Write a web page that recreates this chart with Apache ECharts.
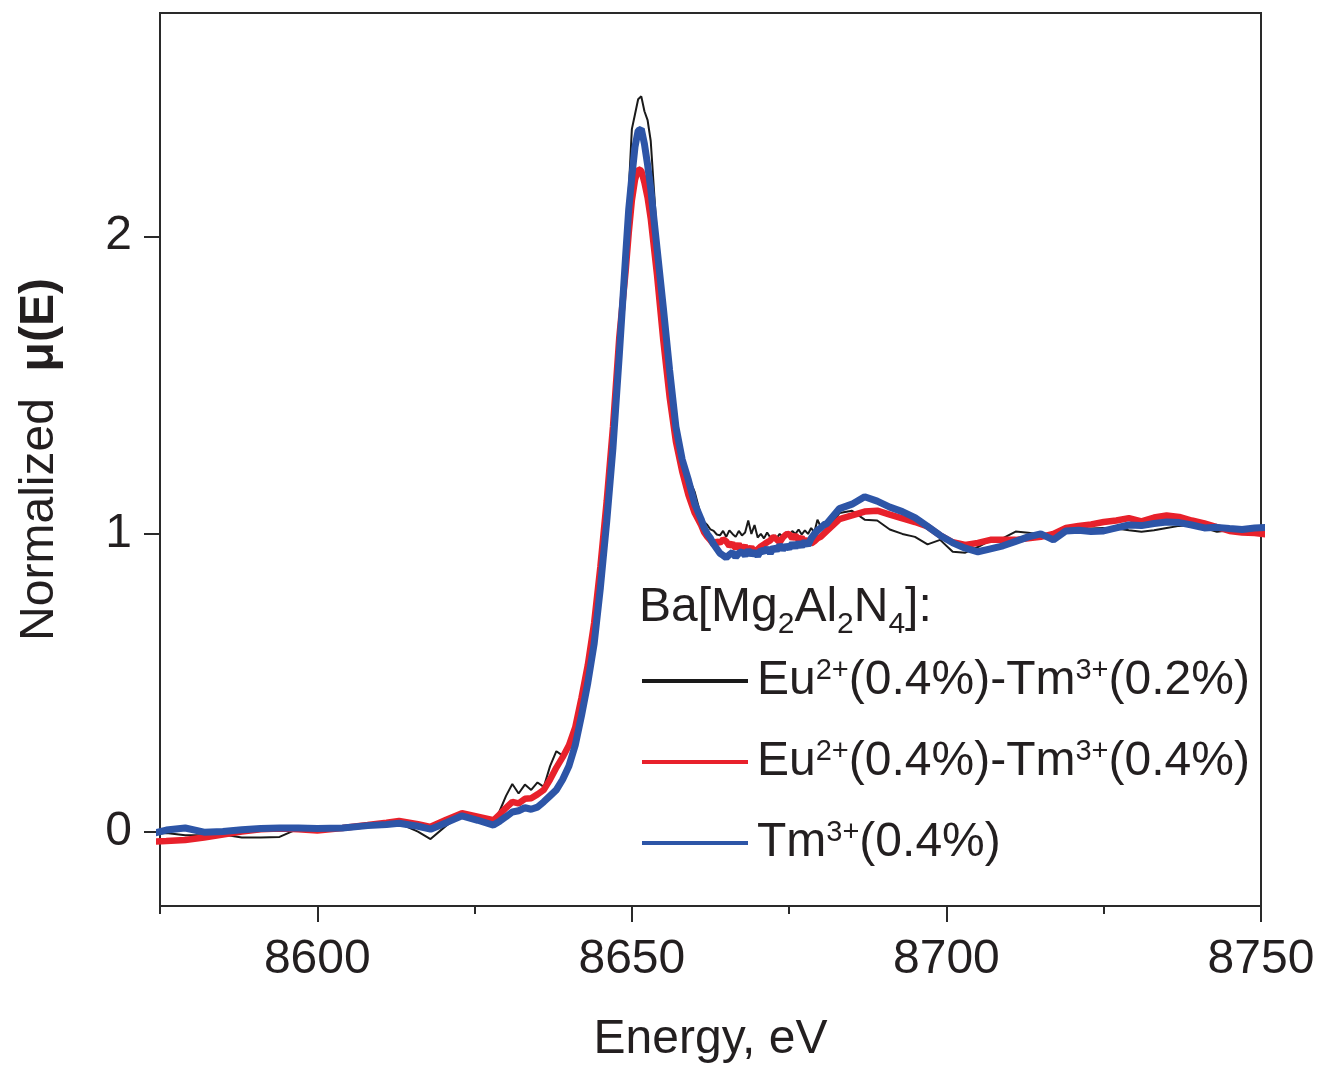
<!DOCTYPE html>
<html>
<head>
<meta charset="utf-8">
<script src="https://cdn.jsdelivr.net/npm/echarts@6/dist/echarts.min.js"></script>
<style>
  html, body { margin: 0; padding: 0; background: #fff; }
  #chart { width: 1320px; height: 1067px; }
</style>
</head>
<body>
<div id="chart"></div>
<script>
// Eu L3-edge XANES of Ba[Mg2Al2N4] samples, normalized absorption vs photon energy (eV)
const energy = [
  8573, 8576, 8579, 8582, 8585, 8588, 8591, 8594, 8597, 8600,
  8604, 8608, 8611, 8613, 8616, 8618, 8620.5, 8623, 8625.5, 8628,
  8629, 8630, 8631, 8632, 8633, 8634, 8635, 8636, 8637, 8638, 8639,
  8640, 8641, 8642, 8643, 8644, 8645, 8646, 8647, 8648, 8649,
  8649.5, 8650, 8650.5, 8651, 8651.5, 8652, 8652.5, 8653, 8654, 8655,
  8656, 8657, 8658, 8659, 8660,
  8661, 8661.5, 8662, 8662.5, 8663, 8663.5, 8664, 8664.5, 8665, 8665.5,
  8666, 8666.5, 8667, 8667.5, 8668, 8668.5, 8669, 8669.5, 8670, 8670.5,
  8671, 8671.5, 8672, 8672.5, 8673, 8673.5, 8674, 8674.5, 8675, 8675.5,
  8676, 8676.5, 8677, 8677.5, 8678, 8678.5, 8679, 8679.5, 8680, 8680.5, 8681,
  8683, 8685, 8687, 8689, 8691, 8693, 8695, 8697, 8699, 8701,
  8703, 8705, 8707, 8709, 8711, 8713, 8715, 8717, 8719, 8721,
  8723, 8725, 8727, 8729, 8731, 8733, 8735, 8737, 8739, 8741,
  8743, 8745, 8747, 8749, 8751, 8752.5
];

// Eu2+(0.4%)-Tm3+(0.2%)
const euTm02 = [
  -0.01, -0.005, -0.012, -0.012, -0.01, -0.02, -0.02, -0.018, 0.01, 0.018,
  0.012, 0.02, 0.025, 0.028, 0.0, -0.025, 0.02, 0.055, 0.042, 0.03,
  0.07, 0.12, 0.16, 0.128, 0.158, 0.14, 0.165, 0.15, 0.22, 0.27, 0.255,
  0.3, 0.34, 0.43, 0.54, 0.67, 0.86, 1.08, 1.33, 1.63, 1.97,
  2.15, 2.36, 2.41, 2.46, 2.47, 2.42, 2.39, 2.32, 2.0, 1.78,
  1.57, 1.38, 1.27, 1.19, 1.14,
  1.06, 1.04, 1.03, 1.015, 1.01, 0.998, 0.995, 1.01, 0.99, 1.012,
  1.0, 0.99, 1.01, 0.995, 1.005, 1.045, 1.0, 1.03, 0.988, 1.0,
  0.985, 1.005, 0.988, 0.995, 0.985, 1.0, 0.99, 1.005, 0.992, 1.01,
  1.0, 1.015, 0.998, 1.012, 1.0, 1.02, 1.005, 1.048, 1.025, 1.04, 1.015,
  1.07, 1.078, 1.048, 1.045, 1.015, 1.0, 0.99, 0.965, 0.98, 0.94,
  0.937, 0.956, 0.978, 0.986, 1.008, 1.004, 0.998, 0.99, 1.012, 1.015,
  1.018, 1.02, 1.018, 1.012, 1.007, 1.012, 1.02, 1.027, 1.03, 1.02,
  1.007, 1.012, 1.015, 1.02, 1.023, 1.02
];

// Eu2+(0.4%)-Tm3+(0.4%)
const euTm04 = [
  -0.035, -0.032, -0.028, -0.02, -0.01, 0.0, 0.008, 0.01, 0.008, 0.004,
  0.012, 0.022, 0.03, 0.036, 0.025, 0.016, 0.04, 0.062, 0.05, 0.038,
  0.058, 0.08, 0.1, 0.095, 0.11, 0.112, 0.125, 0.14, 0.175, 0.215, 0.25,
  0.29, 0.35, 0.45, 0.56, 0.7, 0.89, 1.11, 1.36, 1.66, 1.88,
  2.01, 2.12, 2.19, 2.225, 2.22, 2.18, 2.13, 2.06, 1.87, 1.65,
  1.46, 1.31, 1.21, 1.13, 1.07,
  1.03, 1.005, 0.99, 0.978, 0.965, 0.975, 0.97, 0.982, 0.975, 0.96,
  0.968, 0.952, 0.965, 0.95, 0.958, 0.945, 0.955, 0.94, 0.948, 0.958,
  0.965, 0.972, 0.978, 0.99, 0.982, 0.972, 0.988, 0.998, 1.0, 0.985,
  0.995, 0.98, 0.988, 0.972, 0.98, 0.968, 0.975, 0.985, 0.99, 1.0, 1.01,
  1.05, 1.062, 1.075, 1.078, 1.065, 1.052, 1.04, 1.025, 0.995, 0.972,
  0.963, 0.97, 0.98, 0.98, 0.98, 0.985, 0.99, 1.0, 1.02, 1.027,
  1.032, 1.04, 1.045, 1.053, 1.042, 1.055, 1.062, 1.057, 1.045, 1.035,
  1.023, 1.01, 1.005, 1.003, 0.998, 0.99
];

// Tm3+(0.4%)
const tm04 = [
  -0.01, 0.005, 0.012, -0.002, 0.0, 0.006, 0.01, 0.012, 0.012, 0.01,
  0.012, 0.02, 0.024, 0.028, 0.018, 0.008, 0.03, 0.053, 0.038, 0.022,
  0.035, 0.05, 0.066, 0.07, 0.08, 0.075, 0.082, 0.1, 0.12, 0.14, 0.175,
  0.22, 0.29, 0.39, 0.5, 0.63, 0.82, 1.04, 1.29, 1.6, 1.93,
  2.09, 2.2, 2.3, 2.355, 2.36, 2.31, 2.24, 2.16, 1.96, 1.76,
  1.55, 1.36, 1.25, 1.18, 1.1,
  1.05, 1.02, 1.0, 0.985, 0.965, 0.95, 0.935, 0.928, 0.92, 0.93,
  0.938, 0.922, 0.935, 0.94, 0.928, 0.945, 0.93, 0.94, 0.926, 0.945,
  0.94, 0.952, 0.935, 0.955, 0.945, 0.962, 0.948, 0.96, 0.952, 0.968,
  0.955, 0.97, 0.958, 0.975, 0.962, 0.985, 1.0, 1.012, 1.02, 1.03, 1.035,
  1.085, 1.1, 1.125, 1.11, 1.09, 1.075, 1.055, 1.025, 0.995, 0.97,
  0.952, 0.94, 0.95, 0.96, 0.975, 0.99, 1.0, 0.98, 1.01, 1.012,
  1.008, 1.01, 1.02, 1.03, 1.028, 1.035, 1.04, 1.038, 1.03, 1.02,
  1.022, 1.018, 1.015, 1.02, 1.022, 1.025
];

const seriesNames = ['Eu2+(0.4%)-Tm3+(0.2%)', 'Eu2+(0.4%)-Tm3+(0.4%)', 'Tm3+(0.4%)'];
const seriesColors = ['#1a1a1a', '#e8212b', '#2d55a7'];
const xMajorTicks = [8600, 8650, 8700, 8750];
const xMinorTicks = [8575, 8625, 8675, 8725];
const yTicks = [0, 1, 2];

const FONT = '"Liberation Sans", Arial, Helvetica, sans-serif';
const INK = '#231f20';
const AXIS = '#2a2a2a';

function pairs(values) {
  return energy.map((e, i) => [e, values[i]]);
}

const chart = echarts.init(document.getElementById('chart'), null, { renderer: 'canvas' });

chart.setOption({
  animation: false,
  backgroundColor: '#ffffff',
  textStyle: { fontFamily: FONT },
  grid: {
    left: 160, right: 59, top: 13, bottom: 161,
    show: true, borderColor: AXIS, borderWidth: 2, backgroundColor: 'transparent',
    containLabel: false, outerBoundsMode: 'none'
  },
  xAxis: [
    {
      type: 'value', min: 8575, max: 8750, interval: 25,
      name: 'Energy, eV', nameLocation: 'middle', nameGap: 110,
      nameTextStyle: { fontSize: 48, color: INK, fontFamily: FONT },
      axisLine: { show: true, onZero: false, lineStyle: { color: AXIS, width: 2 } },
      axisTick: { show: true, inside: false, length: 16, customValues: xMajorTicks,
                  lineStyle: { color: AXIS, width: 2 } },
      axisLabel: { show: true, customValues: xMajorTicks, margin: 30,
                   formatter: v => String(v),
                   fontSize: 48, color: INK, fontFamily: FONT },
      splitLine: { show: false }
    },
    {
      type: 'value', min: 8575, max: 8750, interval: 25, position: 'bottom',
      axisLine: { show: false, onZero: false },
      axisTick: { show: true, inside: false, length: 8, customValues: xMinorTicks,
                  lineStyle: { color: AXIS, width: 2 } },
      axisLabel: { show: false },
      splitLine: { show: false }
    }
  ],
  yAxis: {
    type: 'value', min: -0.25, max: 2.75,
    name: 'Normalized  {b|μ(E)}', nameLocation: 'middle', nameGap: 96, nameRotate: 90,
    nameTextStyle: {
      fontSize: 48, color: INK, fontFamily: FONT,
      rich: { b: { fontSize: 48, fontWeight: 'bold', color: INK, fontFamily: FONT } }
    },
    axisLine: { show: true, onZero: false, lineStyle: { color: AXIS, width: 2 } },
    axisTick: { show: true, inside: false, length: 16, customValues: yTicks,
                lineStyle: { color: AXIS, width: 2 } },
    axisLabel: { show: true, customValues: yTicks, margin: 28,
                 fontSize: 48, color: INK, fontFamily: FONT },
    splitLine: { show: false }
  },
  legend: {
    orient: 'vertical', left: 637, top: 651,
    itemWidth: 106, itemHeight: 4, itemGap: 31,
    icon: 'rect',
    selectedMode: false,
    data: seriesNames,
    formatter: name => name.replace(/(\d\+)/g, '{sup|$1}'),
    textStyle: {
      fontSize: 48, color: INK, fontFamily: FONT, lineHeight: 50, padding: [0, 0, 0, 4],
      rich: {
        sup: { fontSize: 29, lineHeight: 30, verticalAlign: 'top', color: INK, fontFamily: FONT }
      }
    }
  },
  graphic: [
    {
      type: 'text', left: 639, top: 584, silent: true,
      style: {
        text: '{n|Ba[Mg}{s|2}{n|Al}{s|2}{n|N}{s|4}{n|]:}',
        fill: INK,
        rich: {
          n: { fontSize: 48, lineHeight: 56, verticalAlign: 'top', fill: INK, fontFamily: FONT },
          s: { fontSize: 30, lineHeight: 30, verticalAlign: 'bottom', fill: INK, fontFamily: FONT }
        }
      }
    }
  ],
  series: [
    {
      name: seriesNames[0], type: 'line', data: pairs(euTm02),
      symbol: 'none', showSymbol: false, clip: false, z: 2,
      lineStyle: { color: seriesColors[0], width: 2 }, itemStyle: { color: seriesColors[0] }
    },
    {
      name: seriesNames[1], type: 'line', data: pairs(euTm04),
      symbol: 'none', showSymbol: false, clip: false, z: 3,
      lineStyle: { color: seriesColors[1], width: 6.5 }, itemStyle: { color: seriesColors[1] }
    },
    {
      name: seriesNames[2], type: 'line', data: pairs(tm04),
      symbol: 'none', showSymbol: false, clip: false, z: 4,
      lineStyle: { color: seriesColors[2], width: 7 }, itemStyle: { color: seriesColors[2] }
    }
  ]
});
</script>
</body>
</html>
